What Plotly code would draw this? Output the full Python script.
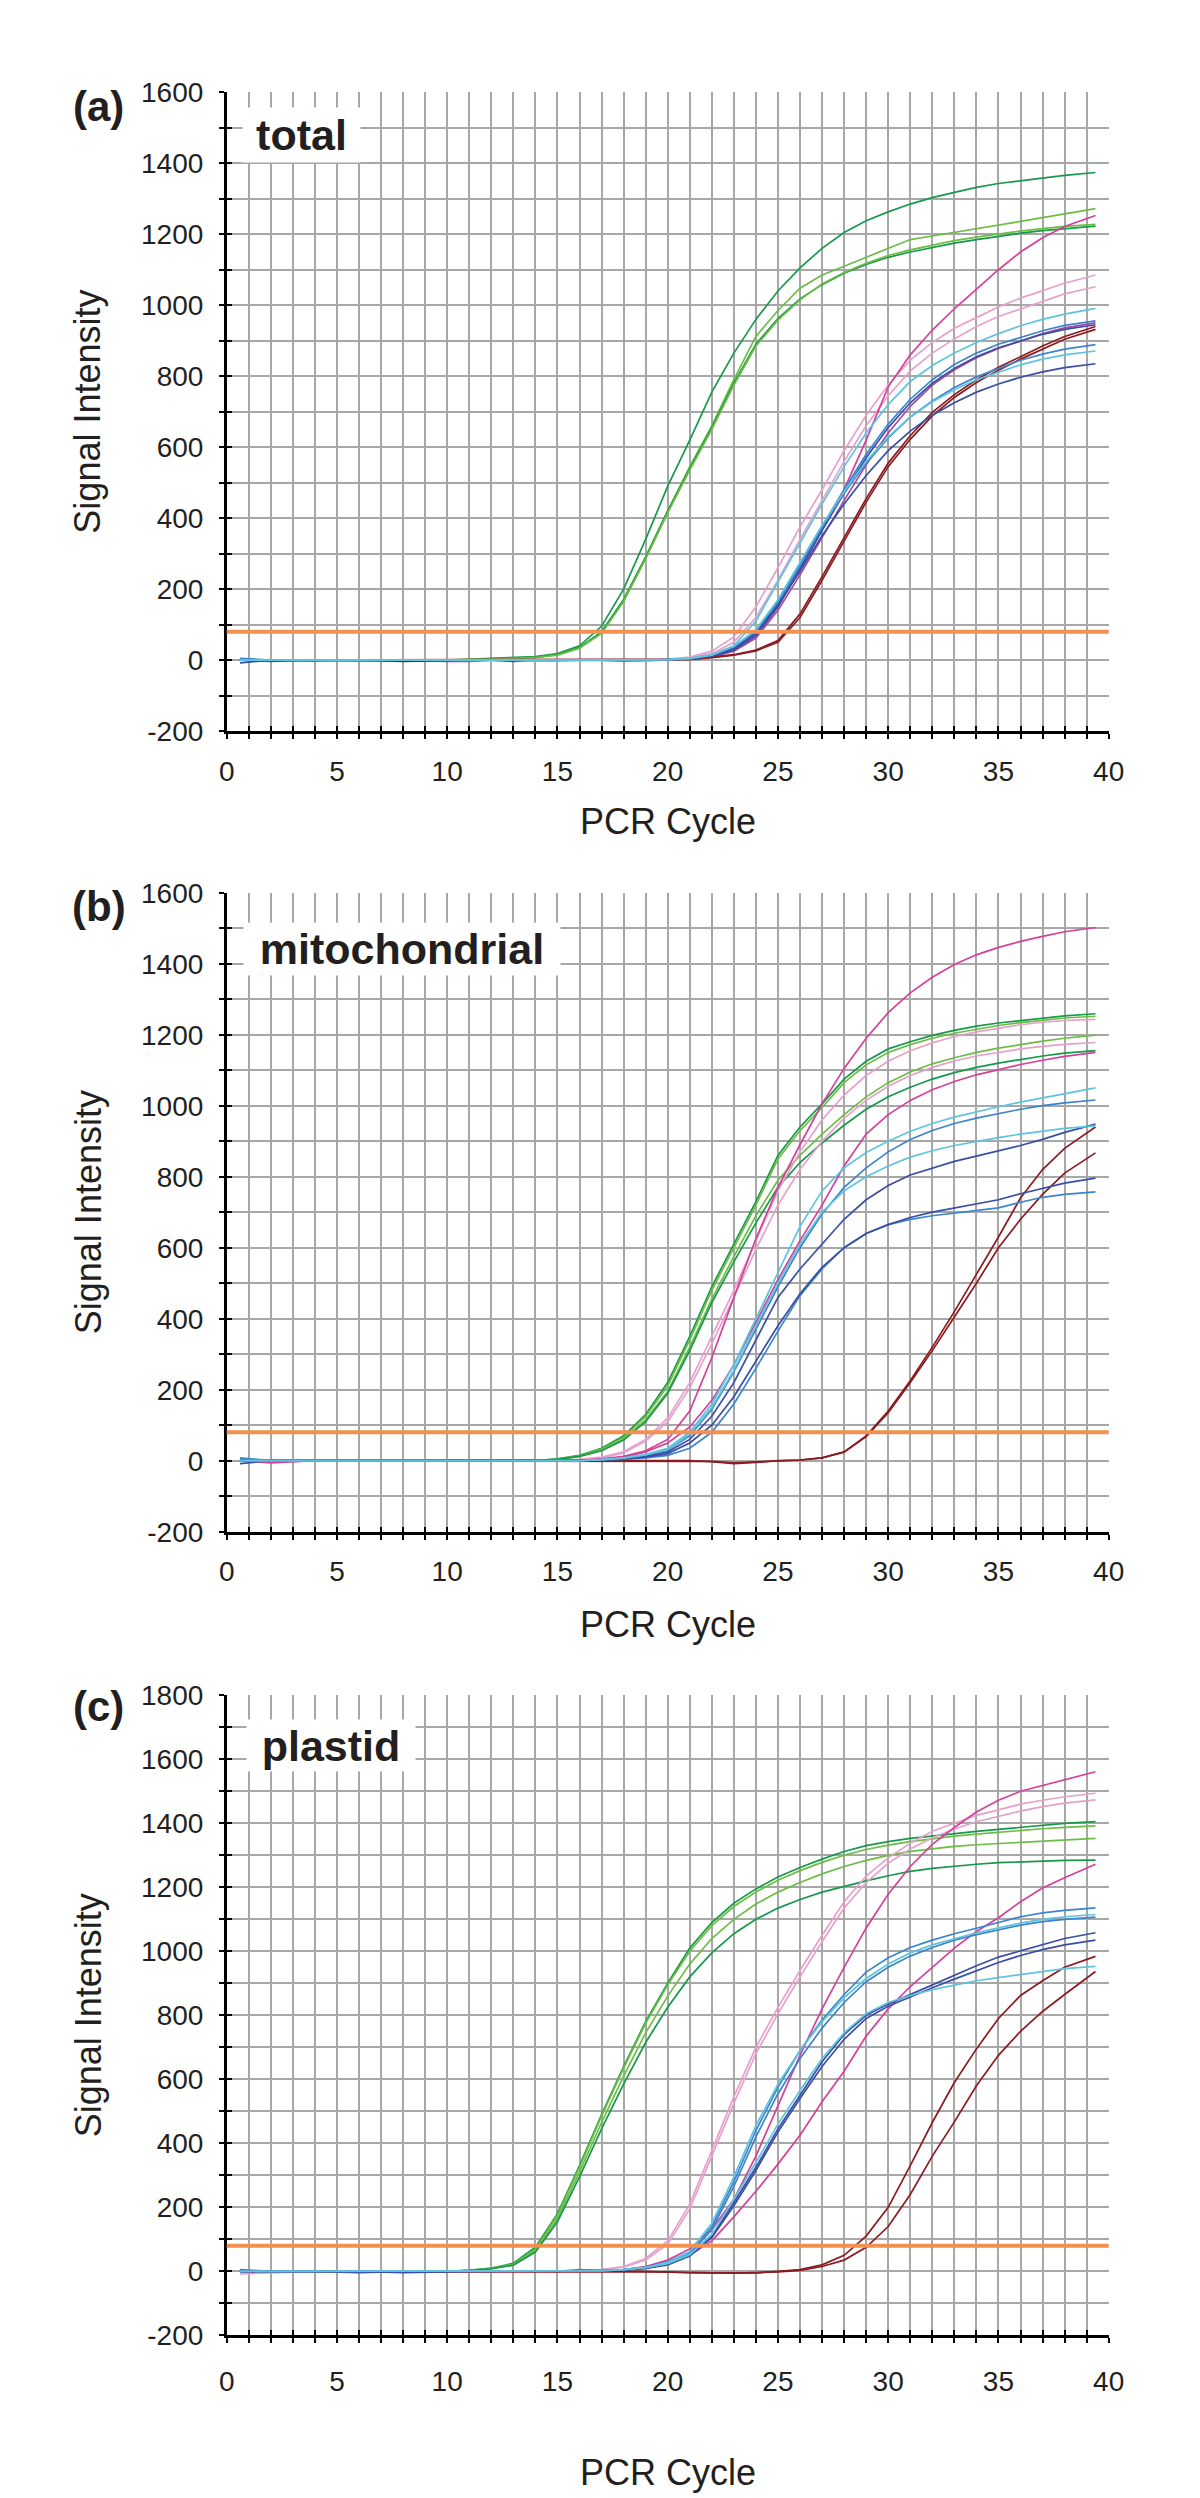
import plotly.graph_objects as go

# ---------------- data ----------------
CYCLES = [0.6, 2, 4, 6, 8, 10, 11, 12, 13, 14, 15, 16, 17, 18, 19, 20, 21, 22, 23, 24,
          25, 26, 27, 28, 29, 30, 31, 32, 33, 34, 35, 36, 37, 38, 39.4]

X_TICKS = list(range(0, 41))
Y_TICKS_A = list(range(-200, 1601, 100))
Y_TICKS_B = list(range(-200, 1601, 100))
Y_TICKS_C = list(range(-200, 1801, 100))
THRESHOLD = 80
PANEL_LETTERS = ["(a)", "(b)", "(c)"]
PANEL_NAMES = ["total", "mitochondrial", "plastid"]
X_TITLE = "PCR Cycle"
Y_TITLE = "Signal Intensity"

# panel (a) total
A_G1 = [0,0,0,-3,0,0,2,4,6,10,18,40,95,200,340,490,620,755,865,960,1040,1105,1160,1205,1238,1263,1285,1303,1318,1332,1343,1351,1359,1366,1374]
A_G2 = [0,0,0,0,-3,0,1,3,5,8,15,35,78,170,290,420,545,660,790,912,985,1048,1085,1110,1135,1162,1185,1195,1205,1214,1225,1236,1247,1258,1272]
A_G3 = [0,0,-3,0,0,0,1,3,5,8,15,35,80,170,290,420,540,655,780,890,962,1018,1058,1090,1115,1135,1150,1163,1175,1185,1195,1203,1210,1216,1223]
A_G4 = [0,0,0,0,0,-3,1,2,4,7,14,33,75,165,285,415,535,650,775,885,958,1015,1060,1092,1118,1140,1156,1170,1182,1192,1201,1209,1216,1222,1228]
A_P1 = [0,0,0,0,0,0,0,0,0,0,0,0,0,-2,-4,2,8,25,65,150,260,375,480,590,690,775,845,895,935,965,995,1020,1042,1062,1085]
A_P2 = [0,0,0,0,0,0,0,0,0,0,0,0,0,0,0,2,6,18,50,120,225,340,450,560,660,745,815,865,905,940,968,990,1012,1032,1052]
A_M1 = [0,0,0,0,0,-4,-4,0,0,0,0,0,0,0,0,1,3,10,28,70,150,260,375,480,620,770,860,930,990,1045,1100,1150,1190,1222,1253]
A_M2 = [0,0,0,0,0,0,0,0,0,0,0,0,0,0,0,1,3,9,25,62,140,240,345,450,550,640,715,775,818,852,878,900,920,936,950]
A_R1 = [0,0,0,0,-4,0,0,0,0,0,0,0,0,0,0,0,2,8,15,28,55,130,235,345,455,555,632,698,748,790,825,855,885,912,940]
A_R2 = [0,0,0,0,0,0,0,0,0,0,0,0,0,0,0,0,2,7,14,26,50,120,225,335,445,545,622,688,740,782,817,848,876,904,932]
A_B1 = [5,0,0,0,0,0,0,0,0,0,0,0,0,0,0,1,4,12,32,75,160,265,375,480,580,665,735,790,833,865,890,910,928,943,956]
A_B2 = [-8,0,0,0,0,0,0,0,-4,0,0,0,0,0,0,1,3,10,28,68,150,255,365,470,570,655,725,780,822,855,880,900,918,932,945]
A_B3 = [0,0,0,0,0,0,0,0,0,0,0,0,0,-3,0,1,4,14,36,80,165,270,375,470,555,625,685,730,768,798,822,845,862,876,889]
A_D1 = [0,-4,0,0,0,0,0,0,0,0,0,0,0,0,0,1,3,12,32,75,155,250,350,440,520,590,645,690,725,755,778,797,812,824,835]
A_C1 = [0,0,0,0,0,0,0,0,0,-3,-3,0,0,0,0,1,5,15,40,110,220,330,440,545,640,720,785,830,865,895,920,942,960,975,991]
A_C2 = [0,0,0,0,0,0,0,0,0,0,0,0,0,0,0,1,4,14,38,85,170,275,380,475,560,628,685,728,762,790,812,832,848,860,871]

# panel (b) mitochondrial
B_G1 = [5,0,0,0,0,0,0,0,0,0,5,15,35,70,130,220,350,490,610,730,860,940,1005,1075,1125,1160,1180,1198,1212,1224,1233,1240,1247,1253,1259]
B_G2 = [0,0,0,0,0,0,0,0,0,0,4,14,33,65,125,210,340,480,600,720,850,930,995,1065,1115,1150,1172,1190,1204,1216,1226,1234,1241,1247,1252]
B_G3 = [0,0,0,0,0,0,0,0,0,0,4,12,30,60,115,195,320,455,575,690,790,860,920,975,1025,1065,1095,1118,1135,1150,1162,1173,1182,1190,1199]
B_G4 = [0,0,0,0,0,0,0,0,0,0,4,12,28,58,110,190,310,445,560,670,770,840,895,945,990,1025,1052,1075,1093,1108,1120,1131,1140,1148,1155]
B_P1 = [0,0,0,0,0,0,0,0,0,0,0,4,10,25,60,120,220,350,480,620,760,870,960,1030,1085,1125,1155,1177,1195,1208,1219,1228,1235,1240,1243]
B_P2 = [0,0,0,0,0,0,0,0,0,0,0,3,8,22,55,110,205,330,460,595,720,820,900,965,1015,1055,1085,1108,1126,1140,1151,1160,1167,1173,1178]
B_M1 = [0,-6,0,0,0,0,0,0,0,0,0,0,5,12,28,60,140,290,460,625,770,890,1005,1105,1190,1262,1318,1362,1398,1425,1446,1463,1477,1490,1502]
B_M2 = [0,0,0,0,0,0,0,0,0,0,0,0,3,10,25,50,95,170,270,390,510,620,720,830,920,975,1015,1045,1068,1087,1102,1116,1128,1139,1150]
B_R1 = [0,0,0,0,0,0,0,0,0,0,0,0,0,0,0,0,0,-3,-8,-5,0,2,8,25,70,140,225,320,420,525,630,740,820,880,940]
B_R2 = [0,0,0,0,0,0,0,0,0,0,0,0,0,0,0,0,0,-2,-6,-4,0,2,8,24,68,135,220,310,405,500,600,680,750,810,867]
B_B1 = [0,0,0,0,0,0,0,0,0,0,0,0,3,7,15,30,70,145,250,370,490,600,695,770,825,870,905,930,950,965,978,990,1000,1008,1016]
B_B2 = [8,0,0,0,0,0,0,0,0,0,0,0,2,4,8,15,35,80,160,260,365,465,540,600,640,665,680,690,697,703,712,728,742,750,757]
B_D1 = [-8,0,0,0,0,0,0,0,0,0,0,0,2,6,12,25,60,125,220,340,460,540,610,680,735,775,805,825,843,858,872,888,905,925,948]
B_D2 = [0,0,0,0,0,0,0,0,0,0,0,0,2,5,10,20,50,100,180,280,380,470,545,600,640,665,685,700,712,722,735,752,768,782,796]
B_C1 = [0,0,0,0,0,0,0,0,0,0,0,0,3,8,18,35,80,160,270,400,530,660,760,825,868,900,928,950,968,983,997,1010,1022,1035,1050]
B_C2 = [0,0,0,0,0,0,0,0,0,0,0,0,3,7,16,32,75,150,255,380,500,610,700,760,800,830,855,873,888,900,910,920,928,936,943]

# panel (c) plastid
C_G1 = [0,0,0,0,0,0,3,10,25,75,180,330,490,640,780,900,1010,1090,1150,1195,1232,1262,1288,1312,1330,1343,1353,1361,1368,1375,1381,1388,1395,1400,1405]
C_G2 = [0,0,0,0,0,0,3,9,22,70,175,325,485,635,775,895,1000,1080,1140,1185,1222,1252,1278,1300,1318,1332,1343,1352,1360,1366,1372,1378,1383,1387,1392]
C_G3 = [0,0,0,0,0,0,3,8,20,65,165,310,465,610,745,860,960,1040,1100,1148,1185,1215,1242,1265,1284,1300,1312,1321,1328,1333,1337,1341,1345,1349,1353]
C_G4 = [0,0,0,0,0,0,3,8,19,60,155,295,445,585,715,825,920,995,1055,1100,1135,1162,1185,1203,1220,1236,1250,1259,1266,1272,1277,1280,1282,1284,1285]
C_P1 = [-8,-5,0,0,0,0,0,0,0,0,0,2,5,15,40,95,210,380,545,700,825,940,1050,1155,1235,1292,1338,1375,1400,1425,1442,1460,1472,1483,1494]
C_P2 = [0,0,0,0,0,0,0,0,0,0,0,2,5,13,35,85,195,360,525,680,805,920,1030,1135,1215,1275,1320,1355,1382,1405,1422,1438,1452,1463,1473]
C_M1 = [0,0,0,0,0,0,0,0,0,0,0,5,3,5,15,35,70,130,225,360,515,675,820,950,1073,1178,1265,1334,1387,1435,1472,1500,1518,1535,1561]
C_M2 = [0,0,0,0,0,0,0,0,0,0,0,0,0,4,10,25,50,95,170,250,335,425,530,625,735,820,890,950,1010,1062,1105,1155,1198,1230,1272]
C_R1 = [3,0,0,0,0,0,0,0,0,0,0,0,0,0,0,-3,-5,-5,-5,-5,0,5,20,50,110,200,330,465,590,695,790,862,908,950,984]
C_R2 = [0,0,0,0,0,0,0,0,0,0,0,0,0,0,0,-2,-4,-6,-6,-4,-2,3,15,35,75,140,240,360,467,580,675,750,812,865,937]
C_B1 = [5,0,0,0,0,0,0,0,0,0,0,0,2,5,12,30,60,140,280,440,575,690,785,865,935,980,1012,1035,1055,1072,1090,1108,1120,1128,1136]
C_B2 = [0,0,0,0,0,0,0,0,0,0,0,0,2,4,10,25,55,130,265,420,555,665,760,840,905,950,985,1012,1035,1052,1068,1082,1093,1100,1107]
C_D1 = [0,0,0,0,-4,0,0,0,0,0,0,0,2,4,10,22,50,110,215,325,445,550,655,740,800,835,865,895,925,955,982,1002,1022,1040,1058]
C_D2 = [0,0,0,-4,0,0,0,0,0,0,0,0,2,4,9,20,48,105,205,315,435,540,640,725,790,828,858,886,913,940,965,987,1005,1020,1035]
C_C1 = [0,0,0,0,0,0,0,0,0,0,0,0,2,5,12,28,62,150,295,455,585,690,780,855,915,960,995,1020,1040,1058,1073,1088,1100,1108,1115]
C_C2 = [0,0,0,0,0,0,0,0,0,0,0,0,2,5,11,24,52,115,225,340,460,565,665,745,805,840,862,880,895,908,918,928,938,946,953]

# ---------------- styles ----------------
DKGREEN = "#17994a"
LTGREEN = "#6cbd45"
MAGENTA = "#d5409a"
LTPINK = "#e6a0cb"
PURPLE = "#a9489f"
DKRED = "#8b1b20"
BLUE = "#3d84cf"
DKBLUE = "#3a4ea6"
CYAN = "#5ec4de"
ORANGE = "#f2914f"
GRID = "#a7a7a7"
TXT = "#231f20"
FONT = "Liberation Sans, Arial, Helvetica, sans-serif"

PANELS = [
    ([(A_G1, DKGREEN), (A_G2, LTGREEN), (A_G3, DKGREEN), (A_G4, LTGREEN),
      (A_P1, LTPINK), (A_P2, LTPINK), (A_M1, MAGENTA), (A_M2, PURPLE),
      (A_R1, DKRED), (A_R2, DKRED), (A_B1, BLUE), (A_B2, DKBLUE), (A_B3, BLUE),
      (A_D1, DKBLUE), (A_C1, CYAN), (A_C2, CYAN)], Y_TICKS_A),
    ([(B_G1, DKGREEN), (B_G2, LTGREEN), (B_G3, LTGREEN), (B_G4, DKGREEN),
      (B_P1, LTPINK), (B_P2, LTPINK), (B_M1, MAGENTA), (B_M2, MAGENTA),
      (B_R1, DKRED), (B_R2, DKRED), (B_B1, BLUE), (B_B2, BLUE), (B_D1, DKBLUE),
      (B_D2, DKBLUE), (B_C1, CYAN), (B_C2, CYAN)], Y_TICKS_B),
    ([(C_G1, DKGREEN), (C_G2, LTGREEN), (C_G3, LTGREEN), (C_G4, DKGREEN),
      (C_P1, LTPINK), (C_P2, LTPINK), (C_M1, MAGENTA), (C_M2, MAGENTA),
      (C_R1, DKRED), (C_R2, DKRED), (C_B1, BLUE), (C_B2, BLUE), (C_D1, DKBLUE),
      (C_D2, DKBLUE), (C_C1, CYAN), (C_C2, CYAN)], Y_TICKS_C),
]

W, H = 1200, 2498
PLOT_L, PLOT_R = 226.7, 1108.7
TOPS = [92.3, 892.7, 1695.3]
BOTS = [731.0, 1531.7, 2335.3]
LETTER_Y = [106, 906, 1706]
NAME_BOX = [(301.5, 135, 117, 54), (402, 949, 316, 52), (331, 1745, 168, 51)]
XLAB_STANDOFF = [8, 8, 14]
XTITLE_GAP = [90, 93, 137]


def px_x(p):
    return p / W


def px_y(p):
    return 1 - p / H


fig = go.Figure()
layout = dict(width=W, height=H, margin=dict(l=0, r=0, t=0, b=0, autoexpand=False),
              paper_bgcolor="white", plot_bgcolor="white", showlegend=False,
              font=dict(family=FONT, color=TXT))
annotations = []
shapes = []

for i, (series, yticks) in enumerate(PANELS):
    n = i + 1
    sx = "" if n == 1 else str(n)
    xa, ya = "x" + sx, "y" + sx
    ox, oy = n + 3, n + 3
    yr = [yticks[0], yticks[-1]]
    xdom = [px_x(PLOT_L), px_x(PLOT_R)]
    ydom = [px_y(BOTS[i]), px_y(TOPS[i])]

    layout["xaxis" + sx] = dict(
        domain=xdom, anchor=ya, range=[X_TICKS[0], X_TICKS[-1]],
        tickmode="array", tickvals=X_TICKS,
        ticktext=[str(v) if v % 5 == 0 else "" for v in X_TICKS],
        ticks="outside", ticklen=5, tickwidth=2, tickcolor="black",
        showline=True, linecolor="black", linewidth=3,
        showgrid=True, gridcolor=GRID, gridwidth=2, zeroline=False,
        tickfont=dict(size=28, family=FONT, color=TXT),
        ticklabelstandoff=XLAB_STANDOFF[i])
    layout["yaxis" + sx] = dict(
        domain=ydom, anchor=xa, range=yr,
        tickmode="array", tickvals=yticks,
        ticktext=[str(v) if v % 200 == 0 else "" for v in yticks],
        ticks="outside", ticklen=5, tickwidth=2, tickcolor="black",
        showline=True, linecolor="black", linewidth=2.5,
        showgrid=True, gridcolor=GRID, gridwidth=2, zeroline=False,
        tickfont=dict(size=28, family=FONT, color=TXT), ticklabelstandoff=10)
    # overlay axes so the tick marks cross the axis lines
    layout["xaxis%d" % ox] = dict(
        overlaying=xa, anchor=ya, side="bottom", range=[X_TICKS[0], X_TICKS[-1]],
        tickmode="array", tickvals=X_TICKS, ticks="inside", ticklen=5, tickwidth=2,
        tickcolor="black", showticklabels=False, showgrid=False, showline=False,
        zeroline=False)
    layout["yaxis%d" % oy] = dict(
        overlaying=ya, anchor=xa, side="left", range=yr,
        tickmode="array", tickvals=yticks, ticks="inside", ticklen=5, tickwidth=2,
        tickcolor="black", showticklabels=False, showgrid=False, showline=False,
        zeroline=False)
    fig.add_trace(go.Scatter(x=[], y=[], xaxis="x%d" % ox, yaxis=ya, hoverinfo="skip"))
    fig.add_trace(go.Scatter(x=[], y=[], xaxis=xa, yaxis="y%d" % oy, hoverinfo="skip"))

    for vals, col in series:
        fig.add_trace(go.Scatter(x=CYCLES, y=vals, mode="lines", xaxis=xa, yaxis=ya,
                                 line=dict(color=col, width=1.7), hoverinfo="skip"))

    shapes.append(dict(type="line", xref=xa + " domain", yref=ya, x0=0, x1=1,
                       y0=THRESHOLD, y1=THRESHOLD, layer="above",
                       line=dict(color=ORANGE, width=4)))

    annotations.append(dict(text="<b>%s</b>" % PANEL_LETTERS[i], xref="paper", yref="paper",
                            x=px_x(98.5), y=px_y(LETTER_Y[i]), xanchor="center",
                            yanchor="middle", showarrow=False,
                            font=dict(size=42, family=FONT, color=TXT)))
    cx, cy, bw, bh = NAME_BOX[i]
    annotations.append(dict(text="<b>%s</b>" % PANEL_NAMES[i], xref="paper", yref="paper",
                            x=px_x(cx), y=px_y(cy), xanchor="center", yanchor="middle",
                            showarrow=False, bgcolor="white", borderpad=0,
                            width=bw, height=bh, align="center", valign="middle",
                            font=dict(size=43, family=FONT, color=TXT)))
    annotations.append(dict(text=Y_TITLE, xref="paper", yref="paper", textangle=-90,
                            x=px_x(88), y=px_y((TOPS[i] + BOTS[i]) / 2),
                            xanchor="center", yanchor="middle", showarrow=False,
                            font=dict(size=36, family=FONT, color=TXT)))
    annotations.append(dict(text=X_TITLE, xref="paper", yref="paper",
                            x=px_x((PLOT_L + PLOT_R) / 2), y=px_y(BOTS[i] + XTITLE_GAP[i]),
                            xanchor="center", yanchor="middle", showarrow=False,
                            font=dict(size=36, family=FONT, color=TXT)))

layout["annotations"] = annotations
layout["shapes"] = shapes
fig.update_layout(**layout)
fig.write_html("out.html", config={"displayModeBar": False},
               post_script="document.body.style.margin='0';document.body.style.overflow='hidden';")
